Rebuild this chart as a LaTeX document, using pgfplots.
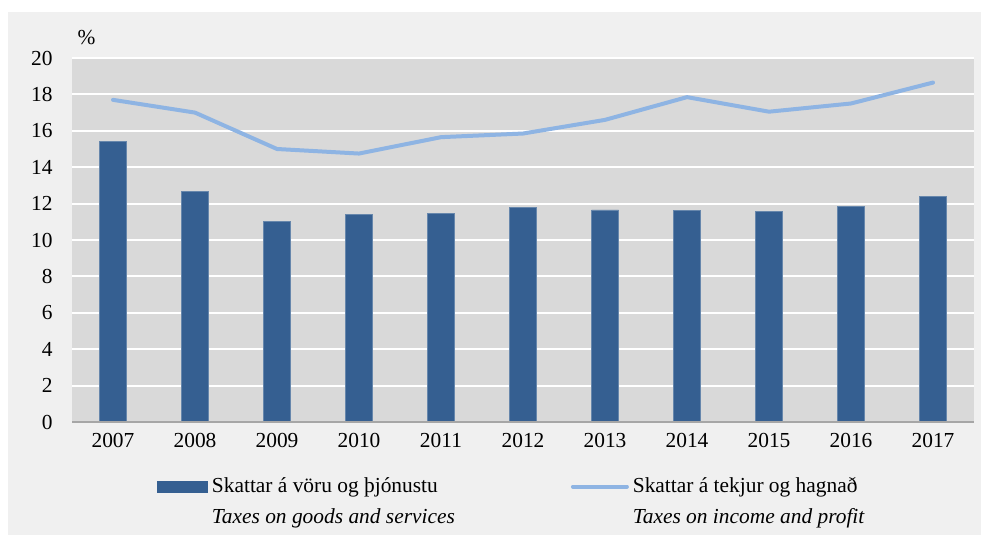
\documentclass[border=0pt]{standalone}
\usepackage{fontspec}
\setmainfont{Liberation Serif}
\usepackage{pgfplots}
\pgfplotsset{compat=1.18}
\definecolor{barcol}{RGB}{53,95,145}
\definecolor{linecol}{RGB}{142,180,227}
\definecolor{outerbg}{RGB}{240,240,240}
\definecolor{plotbg}{RGB}{217,217,217}
\begin{document}
\fontsize{10.7}{12.8}\selectfont
\begin{tikzpicture}
\useasboundingbox (0,0) rectangle (490.5pt,267.5pt);
\fill[outerbg] (4pt,0) rectangle (490.5pt,261.5pt);
\begin{axis}[
  at={(36pt,56.5pt)}, anchor=south west,
  scale only axis, width=451pt, height=182pt,
  xmin=-0.5, xmax=10.5, ymin=0, ymax=20,
  xtick={0,1,2,3,4,5,6,7,8,9,10},
  xticklabels={2007,2008,2009,2010,2011,2012,2013,2014,2015,2016,2017},
  ytick={0,2,4,6,8,10,12,14,16,18,20},
  ymajorgrids, grid style={white, line width=1pt},
  major tick length=0pt,
  axis line style={draw=none},
  axis background/.style={fill=plotbg},
  /pgf/number format/assume math mode=true,
  ticklabel style={font=\fontsize{10.7}{12.8}\selectfont},
  yticklabel style={xshift=-6pt},
  xticklabel style={yshift=-2pt},
  clip=false,
  legend columns=2,
  legend cell align=left,
  legend style={at={(0.094,-0.14)}, anchor=north west, draw=none, fill=none,
    inner sep=0pt, row sep=2.3pt, font=\fontsize{10.7}{12.8}\selectfont,
    nodes={inner sep=2pt},
    /tikz/every even column/.append style={column sep=56pt}},
]
\addplot[ybar, bar width=13.5pt, fill=barcol, draw=barcol!75!white, line width=0.4pt,
  legend image code/.code={\fill[barcol] (0pt,-2.75pt) rectangle (25pt,2.75pt);}]
  coordinates {(0,15.4) (1,12.65) (2,11.0) (3,11.4) (4,11.45) (5,11.8) (6,11.65) (7,11.6) (8,11.55) (9,11.85) (10,12.4)};
\addlegendentry{Skattar á vöru og þjónustu}
\addplot[linecol, line width=2pt, line cap=round, line join=round, mark=none,
  legend image code/.code={\draw[linecol, line width=2pt, line cap=round] (0pt,0pt) -- (27pt,0pt);}]
  coordinates {(0,17.7) (1,17.0) (2,15.0) (3,14.75) (4,15.65) (5,15.85) (6,16.6) (7,17.85) (8,17.05) (9,17.5) (10,18.65)};
\addlegendentry{Skattar á tekjur og hagnað}
\addlegendimage{empty legend}
\addlegendentry{\textit{Taxes on goods and services}}
\addlegendimage{empty legend}
\addlegendentry{\textit{Taxes on income and profit}}
\draw[black!35, line width=0.6pt] (rel axis cs:0,0) -- (rel axis cs:1,0);
\node at (rel axis cs:0.016,1.056) {\%};
\end{axis}
\end{tikzpicture}
\end{document}
